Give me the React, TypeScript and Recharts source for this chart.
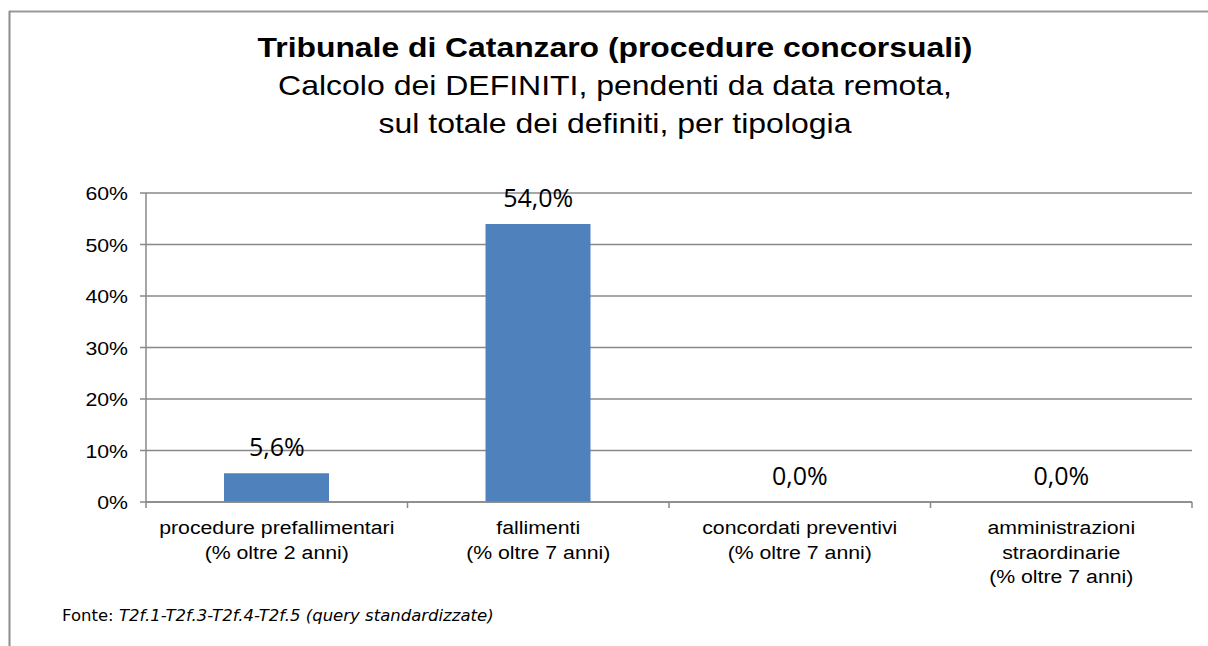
import React from "react";
import { ComposedChart, Bar, Line, XAxis, YAxis, CartesianGrid, LabelList } from "recharts";

const categories: string[][] = [
  ["procedure prefallimentari", "(% oltre 2 anni)"],
  ["fallimenti", "(% oltre 7 anni)"],
  ["concordati preventivi", "(% oltre 7 anni)"],
  ["amministrazioni", "straordinarie", "(% oltre 7 anni)"],
];
const values: number[] = [0.056, 0.54, 0, 0];
const yTicks: number[] = [0, 0.1, 0.2, 0.3, 0.4, 0.5, 0.6];

const titleLines = [
  "Tribunale di Catanzaro (procedure concorsuali)",
  "Calcolo dei DEFINITI, pendenti da data remota,",
  "sul totale dei definiti, per tipologia",
];

const W = 1208;
const H = 646;
const PLOT_LEFT = 146;
const PLOT_RIGHT = 16;
const PLOT_TOP = 193;
const PLOT_BOTTOM = 144;
const Y_AXIS_W = 80;
const X_AXIS_H = 100;
const HALF_BAND = (W - PLOT_LEFT - PLOT_RIGHT) / categories.length / 2;

const data = categories.map((c, i) => ({ key: c.join("|"), value: values[i] }));

const GRID = "#888888";
const TXT_FONT = "'Liberation Sans', Arial, sans-serif";
const SX = 1.12;
const TICK_FS = 19;

const fmtPct = (v: number) => (v * 100).toFixed(1).replace(".", ",") + "%";

const YTick = (props: any) => {
  const { x, y, payload } = props;
  return (
    <text
      transform={`translate(${x},${y}) scale(${SX},1)`}
      textAnchor="end"
      dy={7}
      fontFamily={TXT_FONT}
      fontSize={TICK_FS}
      fill="#000"
    >
      {Math.round(payload.value * 100) + "%"}
    </text>
  );
};

const XTick = (props: any) => {
  const { x, y, payload, index } = props;
  const lines: string[] = String(payload.value).split("|");
  return (
    <g>
      <line x1={x - HALF_BAND} x2={x - HALF_BAND} y1={y} y2={y + 6} stroke={GRID} strokeWidth={1.5} />
      {index === categories.length - 1 && (
        <line x1={x + HALF_BAND} x2={x + HALF_BAND} y1={y} y2={y + 6} stroke={GRID} strokeWidth={1.5} />
      )}
      {lines.map((l, i) => (
        <text
          key={i}
          transform={`translate(${x},${y + 32 + i * 24.5}) scale(${SX},1)`}
          textAnchor="middle"
          fontFamily={TXT_FONT}
          fontSize={TICK_FS}
          fill="#000"
        >
          {l}
        </text>
      ))}
    </g>
  );
};

const ValueLabel = (props: any) => {
  const { x, y, value } = props;
  return (
    <text
      x={x}
      y={y - 17}
      textAnchor="middle"
      fontFamily="'Open Sans', sans-serif"
      fontSize={25}
      fill="#000"
    >
      {fmtPct(value)}
    </text>
  );
};

export default function App() {
  return (
    <div style={{ position: "absolute", left: 0, top: 0, width: W, height: H, background: "#fff" }}>
      <div style={{ position: "absolute", left: 0, top: 0 }}>
        <ComposedChart
          width={W}
          height={H}
          data={data}
          margin={{
            top: PLOT_TOP,
            right: PLOT_RIGHT,
            bottom: PLOT_BOTTOM - X_AXIS_H,
            left: PLOT_LEFT - Y_AXIS_W,
          }}
        >
          <CartesianGrid vertical={false} stroke={GRID} strokeWidth={1.5} />
          <XAxis
            dataKey="key"
            height={X_AXIS_H}
            tickLine={false}
            tickSize={0}
            tickMargin={0}
            axisLine={{ stroke: GRID, strokeWidth: 1.5 }}
            tick={<XTick />}
            interval={0}
          />
          <YAxis
            width={Y_AXIS_W}
            domain={[0, 0.6]}
            ticks={yTicks}
            tickSize={6}
            tickMargin={12}
            tickLine={{ stroke: GRID, strokeWidth: 1.5 }}
            axisLine={{ stroke: GRID, strokeWidth: 1.5 }}
            tick={<YTick />}
            interval={0}
          />
          <Bar dataKey="value" fill="#4F81BD" barSize={105} isAnimationActive={false} />
          <Line
            dataKey="value"
            stroke="none"
            dot={false}
            activeDot={false}
            legendType="none"
            isAnimationActive={false}
          >
            <LabelList dataKey="value" content={<ValueLabel />} />
          </Line>
        </ComposedChart>
      </div>
      <svg
        width={W}
        height={H}
        style={{ position: "absolute", left: 0, top: 0, pointerEvents: "none" }}
      >
        <line x1={9} x2={W} y1={11.5} y2={11.5} stroke="#999" strokeWidth={2} />
        <line x1={9.5} x2={9.5} y1={11} y2={H} stroke="#8c8c8c" strokeWidth={2} />
        <text
          transform={`translate(615,57) scale(1.18,1)`}
          textAnchor="middle"
          fontFamily={TXT_FONT}
          fontWeight="bold"
          fontSize={27}
          fill="#000"
        >
          {titleLines[0]}
        </text>
        <text
          transform={`translate(615,95) scale(1.185,1)`}
          textAnchor="middle"
          fontFamily={TXT_FONT}
          fontSize={27}
          fill="#000"
        >
          {titleLines[1]}
        </text>
        <text
          transform={`translate(615,133) scale(1.185,1)`}
          textAnchor="middle"
          fontFamily={TXT_FONT}
          fontSize={27}
          fill="#000"
        >
          {titleLines[2]}
        </text>
        <text x={62} y={621} fontFamily="'DejaVu Sans', Verdana, sans-serif" fontSize={16.5} fill="#000">
          Fonte: <tspan fontStyle="italic">T2f.1-T2f.3-T2f.4-T2f.5 (query standardizzate)</tspan>
        </text>
      </svg>
    </div>
  );
}
